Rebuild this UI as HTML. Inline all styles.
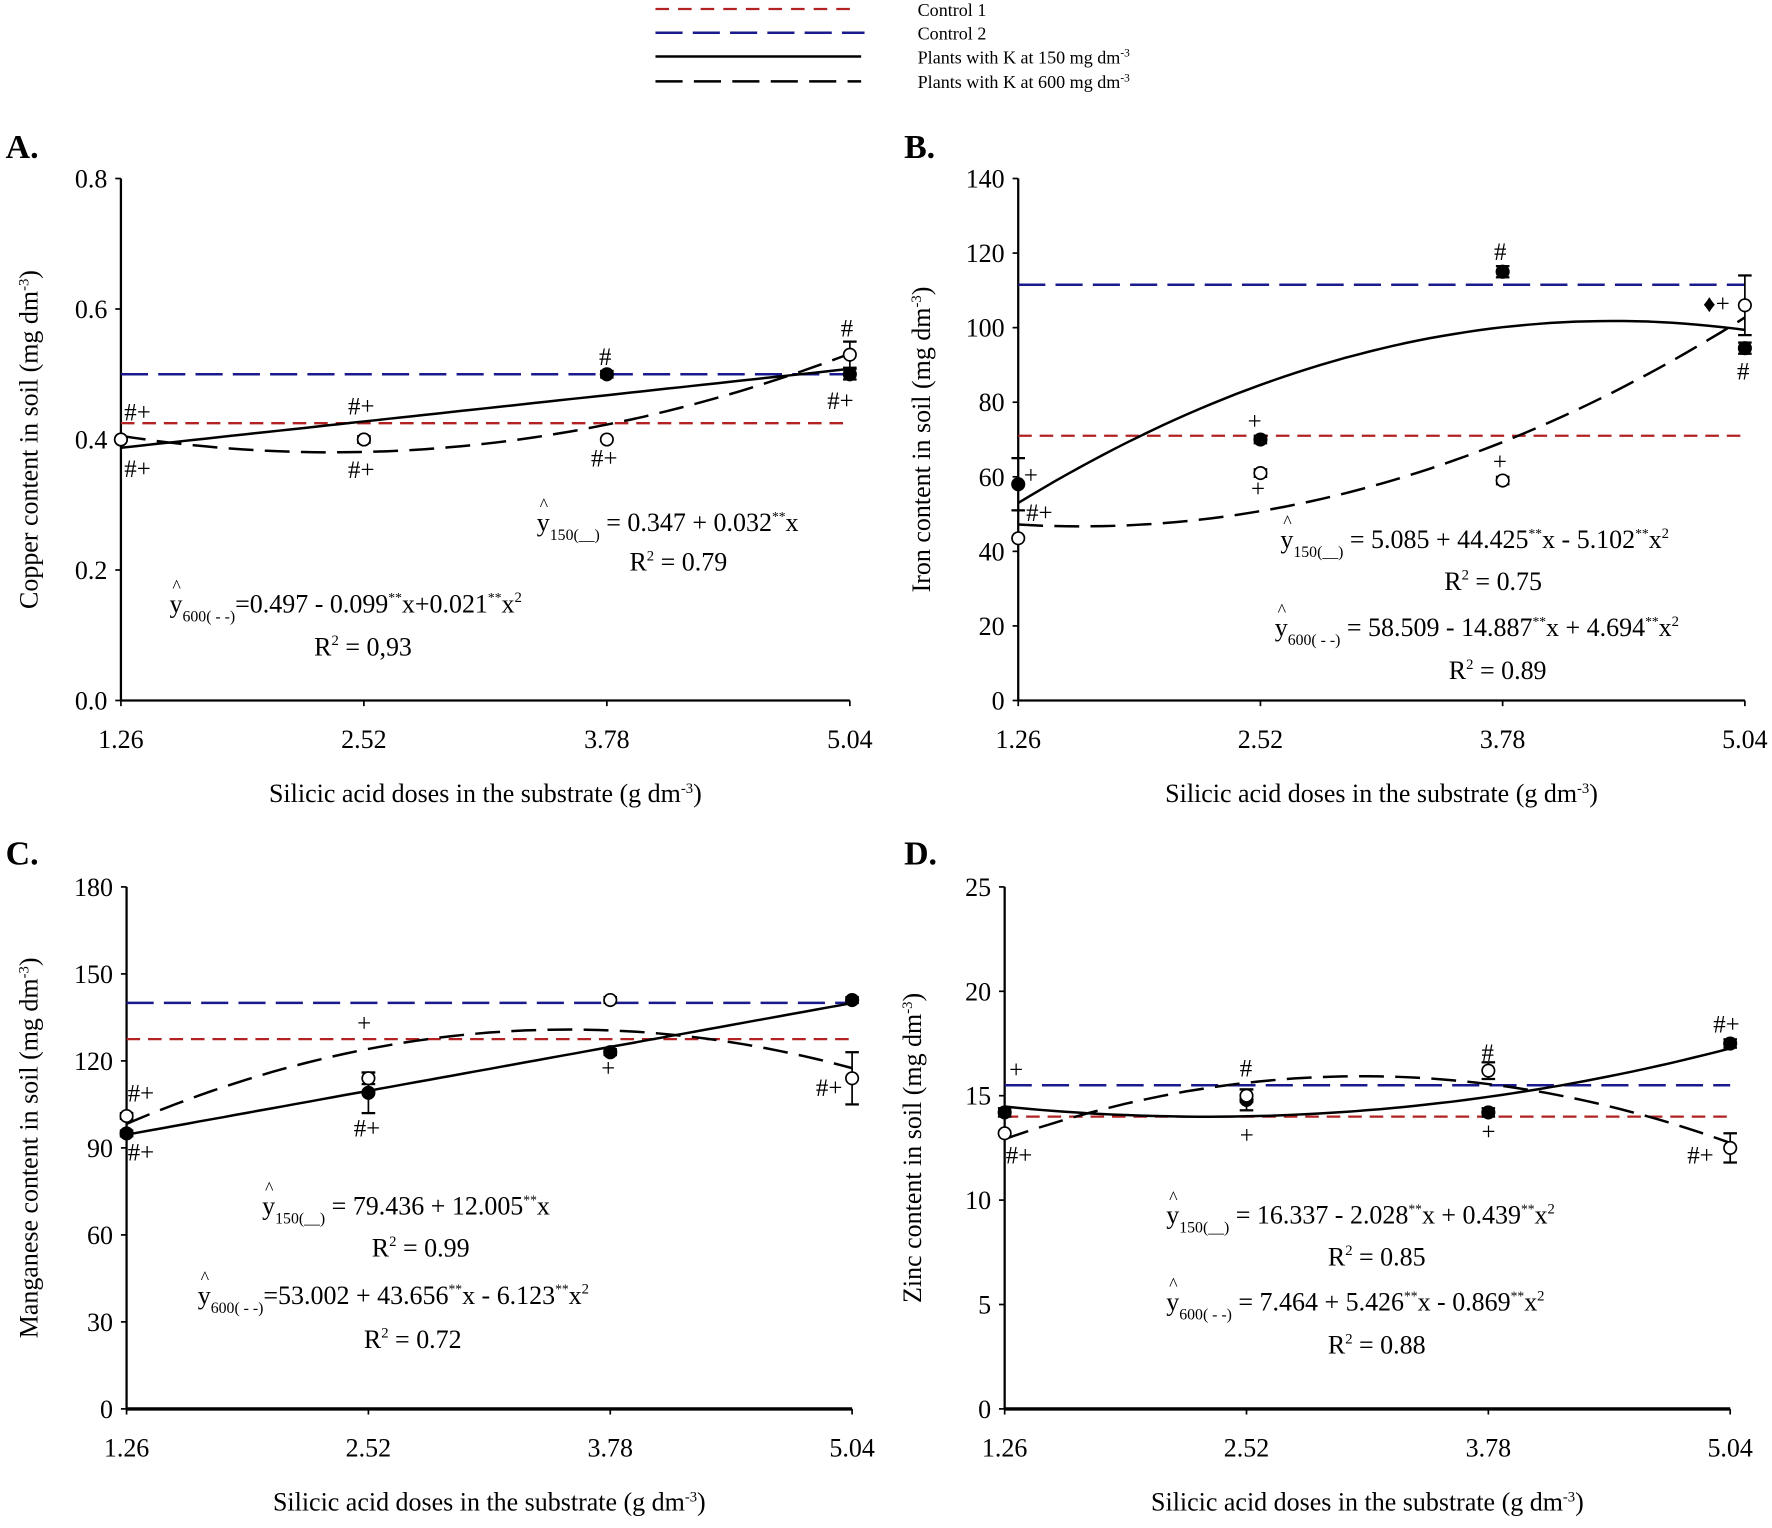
<!DOCTYPE html>
<html><head><meta charset="utf-8"><style>
html,body{margin:0;padding:0;background:#fff;}
svg, svg text{font-family:"Liberation Serif","Times New Roman",serif;}
</style></head><body>
<svg id="fig" width="1772" height="1523" viewBox="0 0 1568 1348" preserveAspectRatio="none" font-family="Liberation Serif, serif" xmlns="http://www.w3.org/2000/svg">
<g>
<line x1="580" y1="8" x2="760" y2="8" stroke="#b22222" stroke-width="2" stroke-dasharray="12,8"/>
<line x1="580" y1="29" x2="765" y2="29" stroke="#1a1a8c" stroke-width="2.2" stroke-dasharray="24,9"/>
<line x1="580" y1="50" x2="762" y2="50" stroke="#000" stroke-width="2.2"/>
<line x1="580" y1="72" x2="762" y2="72" stroke="#000" stroke-width="2.2" stroke-dasharray="24,10"/>
<text x="812" y="14" font-size="16">Control 1</text>
<text x="812" y="35" font-size="16">Control 2</text>
<text x="812" y="56" font-size="16">Plants with K at 150 mg dm<tspan dy="-6" font-size="10">-3</tspan></text>
<text x="812" y="78" font-size="16">Plants with K at 600 mg dm<tspan dy="-6" font-size="10">-3</tspan></text>
</g>
</svg>
<script>
const xCats=[1.26,2.52,3.78,5.04];
// Panel A copper
const aFilled=[0.40,0.40,0.50,0.50], aOpen=[0.40,0.40,0.40,0.53], aErrF=[0,0,0.005,0.008], aErrO=[0,0.005,0,0.02];
const aCtrl=[0.425,0.50], aFit150=[0.347,0.032,0], aFit600=[0.497,-0.099,0.021], aTicks=["0.0","0.2","0.4","0.6","0.8"];
// Panel B iron
const bFilled=[58,70,115,94.5], bOpen=[43.5,61,59,106], bErrF=[7,1,1.5,1.5], bErrO=[0,1,1,8];
const bCtrl=[71,111.5], bFit150=[5.085,44.425,-5.102], bFit600=[58.509,-14.887,4.694], bTicks=["0","20","40","60","80","100","120","140"];
// Panel C manganese
const cFilled=[95,109,123,141], cOpen=[101,114,141,114], cErrF=[1,7,1,1], cErrO=[1,2,1,9];
const cCtrl=[127.5,140], cFit150=[79.436,12.005,0], cFit600=[53.002,43.656,-6.123], cTicks=["0","30","60","90","120","150","180"];
// Panel D zinc
const dFilled=[14.2,14.8,14.2,17.5], dOpen=[13.2,15.0,16.2,12.5], dErrF=[0.2,0.5,0.2,0.2], dErrO=[0,0.3,0.4,0.7];
const dCtrl=[14,15.5], dFit150=[16.337,-2.028,0.439], dFit600=[7.464,5.426,-0.869], dTicks=["0","5","10","15","20","25"];

const NS="http://www.w3.org/2000/svg", svg=document.getElementById('fig');
function mk(tag,attrs,parent,text){const e=document.createElementNS(NS,tag);for(const k in attrs)e.setAttribute(k,attrs[k]);if(text!==undefined)e.textContent=text;(parent||svg).appendChild(e);return e;}
function panel(o){
 const g=mk('g',{});
 
 
 const ymax=o.ticks.length-1, step=parseFloat(o.ticks[1]);
 const sx=v=>o.x0+(v-xCats[0])/(xCats[3]-xCats[0])*(o.x1-o.x0);
 const sy=v=>o.y0-v/(step*ymax)*(o.y0-o.yt);
 const lab=mk('text',{x:o.lx,y:o.ly,'font-size':30,'font-weight':'bold'},g,o.id.toUpperCase()+'.');
 
 
 mk('line',{x1:o.x0,y1:o.yt,x2:o.x0,y2:o.y0,stroke:'#000','stroke-width':2},g);
 mk('line',{x1:o.x0,y1:o.y0,x2:o.x1,y2:o.y0,stroke:'#000','stroke-width':o.thick||2},g);
 o.ticks.forEach((t,i)=>{const y=sy(i*step);mk('line',{x1:o.x0-5,y1:y,x2:o.x0,y2:y,stroke:'#000','stroke-width':1.5},g);
  const tl=mk('text',{x:o.x0-12,y:y+8,'font-size':23,'text-anchor':'end'},g,t);
  
  });
 xCats.forEach(c=>{const x=sx(c);mk('line',{x1:x,y1:o.y0,x2:x,y2:o.y0+5,stroke:'#000','stroke-width':1.5},g);
  const tl=mk('text',{x:x,y:o.y0+42,'font-size':23,'text-anchor':'middle'},g,c.toFixed(2));
  
  });
 const xt=mk('text',{x:(o.x0+o.x1)/2,y:o.y0+90,'font-size':23,'text-anchor':'middle'},g);
 xt.innerHTML='Silicic acid doses in the substrate (g dm<tspan dy="-8" font-size="13">-3</tspan><tspan dy="8">)</tspan>';
 
 
 const yt=mk('text',{transform:`translate(${o.ytx},${(o.y0+o.yt)/2}) rotate(-90)`,'font-size':23,'text-anchor':'middle'},g);
 yt.innerHTML=o.ytitle+' (mg dm<tspan dy="-8" font-size="13">-3</tspan><tspan dy="8">)</tspan>';
 
 
 const c1=mk('line',{x1:o.x0,y1:sy(o.ctrl[0]),x2:o.x1,y2:sy(o.ctrl[0]),stroke:'#b22222','stroke-width':2,'stroke-dasharray':'12,7'},g);
 
 
 const c2=mk('line',{x1:o.x0,y1:sy(o.ctrl[1]),x2:o.x1,y2:sy(o.ctrl[1]),stroke:'#1a1a8c','stroke-width':2.2,'stroke-dasharray':'24,9'},g);
 
 
 [[o.f150,'none','fit-150-curve'],[o.f600,'22,10','fit-600-curve']].forEach(([f,da,nm])=>{
  let d='';for(let i=0;i<=60;i++){const x=xCats[0]+(xCats[3]-xCats[0])*i/60;const y=f[0]+f[1]*x+f[2]*x*x;d+=(i?'L':'M')+sx(x).toFixed(1)+' '+sy(y).toFixed(1);}
  const p=mk('path',{d:d,fill:'none',stroke:'#000','stroke-width':2.2,'stroke-dasharray':da},g);
  
  });
 [[o.filled,o.errF,'#000','filled-point'],[o.open,o.errO,'#fff','open-point']].forEach(([vals,errs,fill,nm])=>{
  vals.forEach((v,i)=>{const x=sx(xCats[i]),y=sy(v);
   if(errs[i]>0){const y1=sy(v+errs[i]),y2=sy(v-errs[i]);mk('line',{x1:x,y1:y1,x2:x,y2:y2,stroke:'#000','stroke-width':1.5},g);
    mk('line',{x1:x-6,y1:y1,x2:x+6,y2:y1,stroke:'#000','stroke-width':2},g);mk('line',{x1:x-6,y1:y2,x2:x+6,y2:y2,stroke:'#000','stroke-width':2},g);}
   const c=mk('circle',{cx:x,cy:y,r:5.5,fill:fill,stroke:'#000','stroke-width':1.5},g);
   
   });});
 o.ann.forEach(a=>{const t=mk('text',{x:a[0],y:a[1],'font-size':22},g,a[2]);
  
  });
 o.eq.forEach(e=>{const t=mk('text',{x:e[0],y:e[1],'font-size':23},g);t.innerHTML=e[2];
  
  });
}
const hat=(n)=>`<tspan dy="-18" font-size="16">^</tspan><tspan dx="-10" dy="18">y</tspan><tspan dy="8" font-size="14">${n}</tspan><tspan dy="-8">`;
const ss='<tspan dy="-9" font-size="12">**</tspan><tspan dy="9">';
const sq='<tspan dy="-9" font-size="13">2</tspan><tspan dy="9">';
panel({id:'a',x0:107,x1:752,yt:158,y0:620,lx:5,ly:140,ytx:33,ytitle:'Copper content in soil',ticks:aTicks,filled:aFilled,open:aOpen,errF:aErrF,errO:aErrO,ctrl:aCtrl,f150:aFit150,f600:aFit600,
 ann:[[110,372,'#+'],[110,422,'#+'],[308,367,'#+'],[308,423,'#+'],[523,413,'#+'],[530,323,'#'],[744,298,'#'],[732,362,'#+']],
 eq:[[475,470,hat('150(__)')+' = 0.347 + 0.032'+ss+'x</tspan></tspan>'],[557,505,'R'+sq+' = 0.79</tspan>'],[150,542,hat('600( - -)')+'=0.497 - 0.099'+ss+'x+0.021'+ss+'x'+sq+'</tspan></tspan></tspan>'],[278,580,'R'+sq+' = 0,93</tspan>']]});
panel({id:'b',x0:901,x1:1544,yt:158,y0:620,lx:800,ly:140,ytx:823,ytitle:'Iron content in soil',ticks:bTicks,filled:bFilled,open:bOpen,errF:bErrF,errO:bErrO,ctrl:bCtrl,f150:bFit150,f600:bFit600,
 ann:[[906,428,'+'],[908,461,'#+'],[1104,380,'+'],[1107,440,'+'],[1322,230,'#'],[1321,416,'+'],[1507,276,'♦+'],[1537,336,'#']],
 eq:[[1133,485,hat('150(__)')+' = 5.085 + 44.425'+ss+'x - 5.102'+ss+'x'+sq+'</tspan></tspan></tspan>'],[1278,522,'R'+sq+' = 0.75</tspan>'],[1128,563,hat('600( - -)')+' = 58.509 - 14.887'+ss+'x + 4.694'+ss+'x'+sq+'</tspan></tspan></tspan>'],[1282,601,'R'+sq+' = 0.89</tspan>']]});
panel({id:'c',x0:112,x1:754,yt:785,y0:1247,lx:5,ly:765,ytx:33,ytitle:'Manganese content in soil',ticks:cTicks,filled:cFilled,open:cOpen,errF:cErrF,errO:cErrO,ctrl:cCtrl,f150:cFit150,f600:cFit600,thick:3,
 ann:[[113,975,'#+'],[113,1027,'#+'],[316,913,'+'],[313,1006,'#+'],[532,953,'+'],[722,970,'#+']],
 eq:[[232,1075,hat('150(__)')+' = 79.436 + 12.005'+ss+'x</tspan></tspan>'],[329,1112,'R'+sq+' = 0.99</tspan>'],[175,1154,hat('600( - -)')+'=53.002 + 43.656'+ss+'x - 6.123'+ss+'x'+sq+'</tspan></tspan></tspan>'],[322,1193,'R'+sq+' = 0.72</tspan>']]});
panel({id:'d',x0:889,x1:1531,yt:785,y0:1247,lx:800,ly:765,ytx:815,ytitle:'Zinc content in soil',ticks:dTicks,filled:dFilled,open:dOpen,errF:dErrF,errO:dErrO,ctrl:dCtrl,f150:dFit150,f600:dFit600,thick:3,
 ann:[[893,954,'+'],[890,1030,'#+'],[1097,953,'#'],[1097,1012,'+'],[1311,939,'#'],[1311,1009,'+'],[1516,914,'#+'],[1493,1030,'#+']],
 eq:[[1032,1083,hat('150(__)')+' = 16.337 - 2.028'+ss+'x + 0.439'+ss+'x'+sq+'</tspan></tspan></tspan>'],[1175,1120,'R'+sq+' = 0.85</tspan>'],[1032,1160,hat('600( - -)')+' = 7.464 + 5.426'+ss+'x - 0.869'+ss+'x'+sq+'</tspan></tspan></tspan>'],[1175,1198,'R'+sq+' = 0.88</tspan>']]});
</script>
</body></html>
